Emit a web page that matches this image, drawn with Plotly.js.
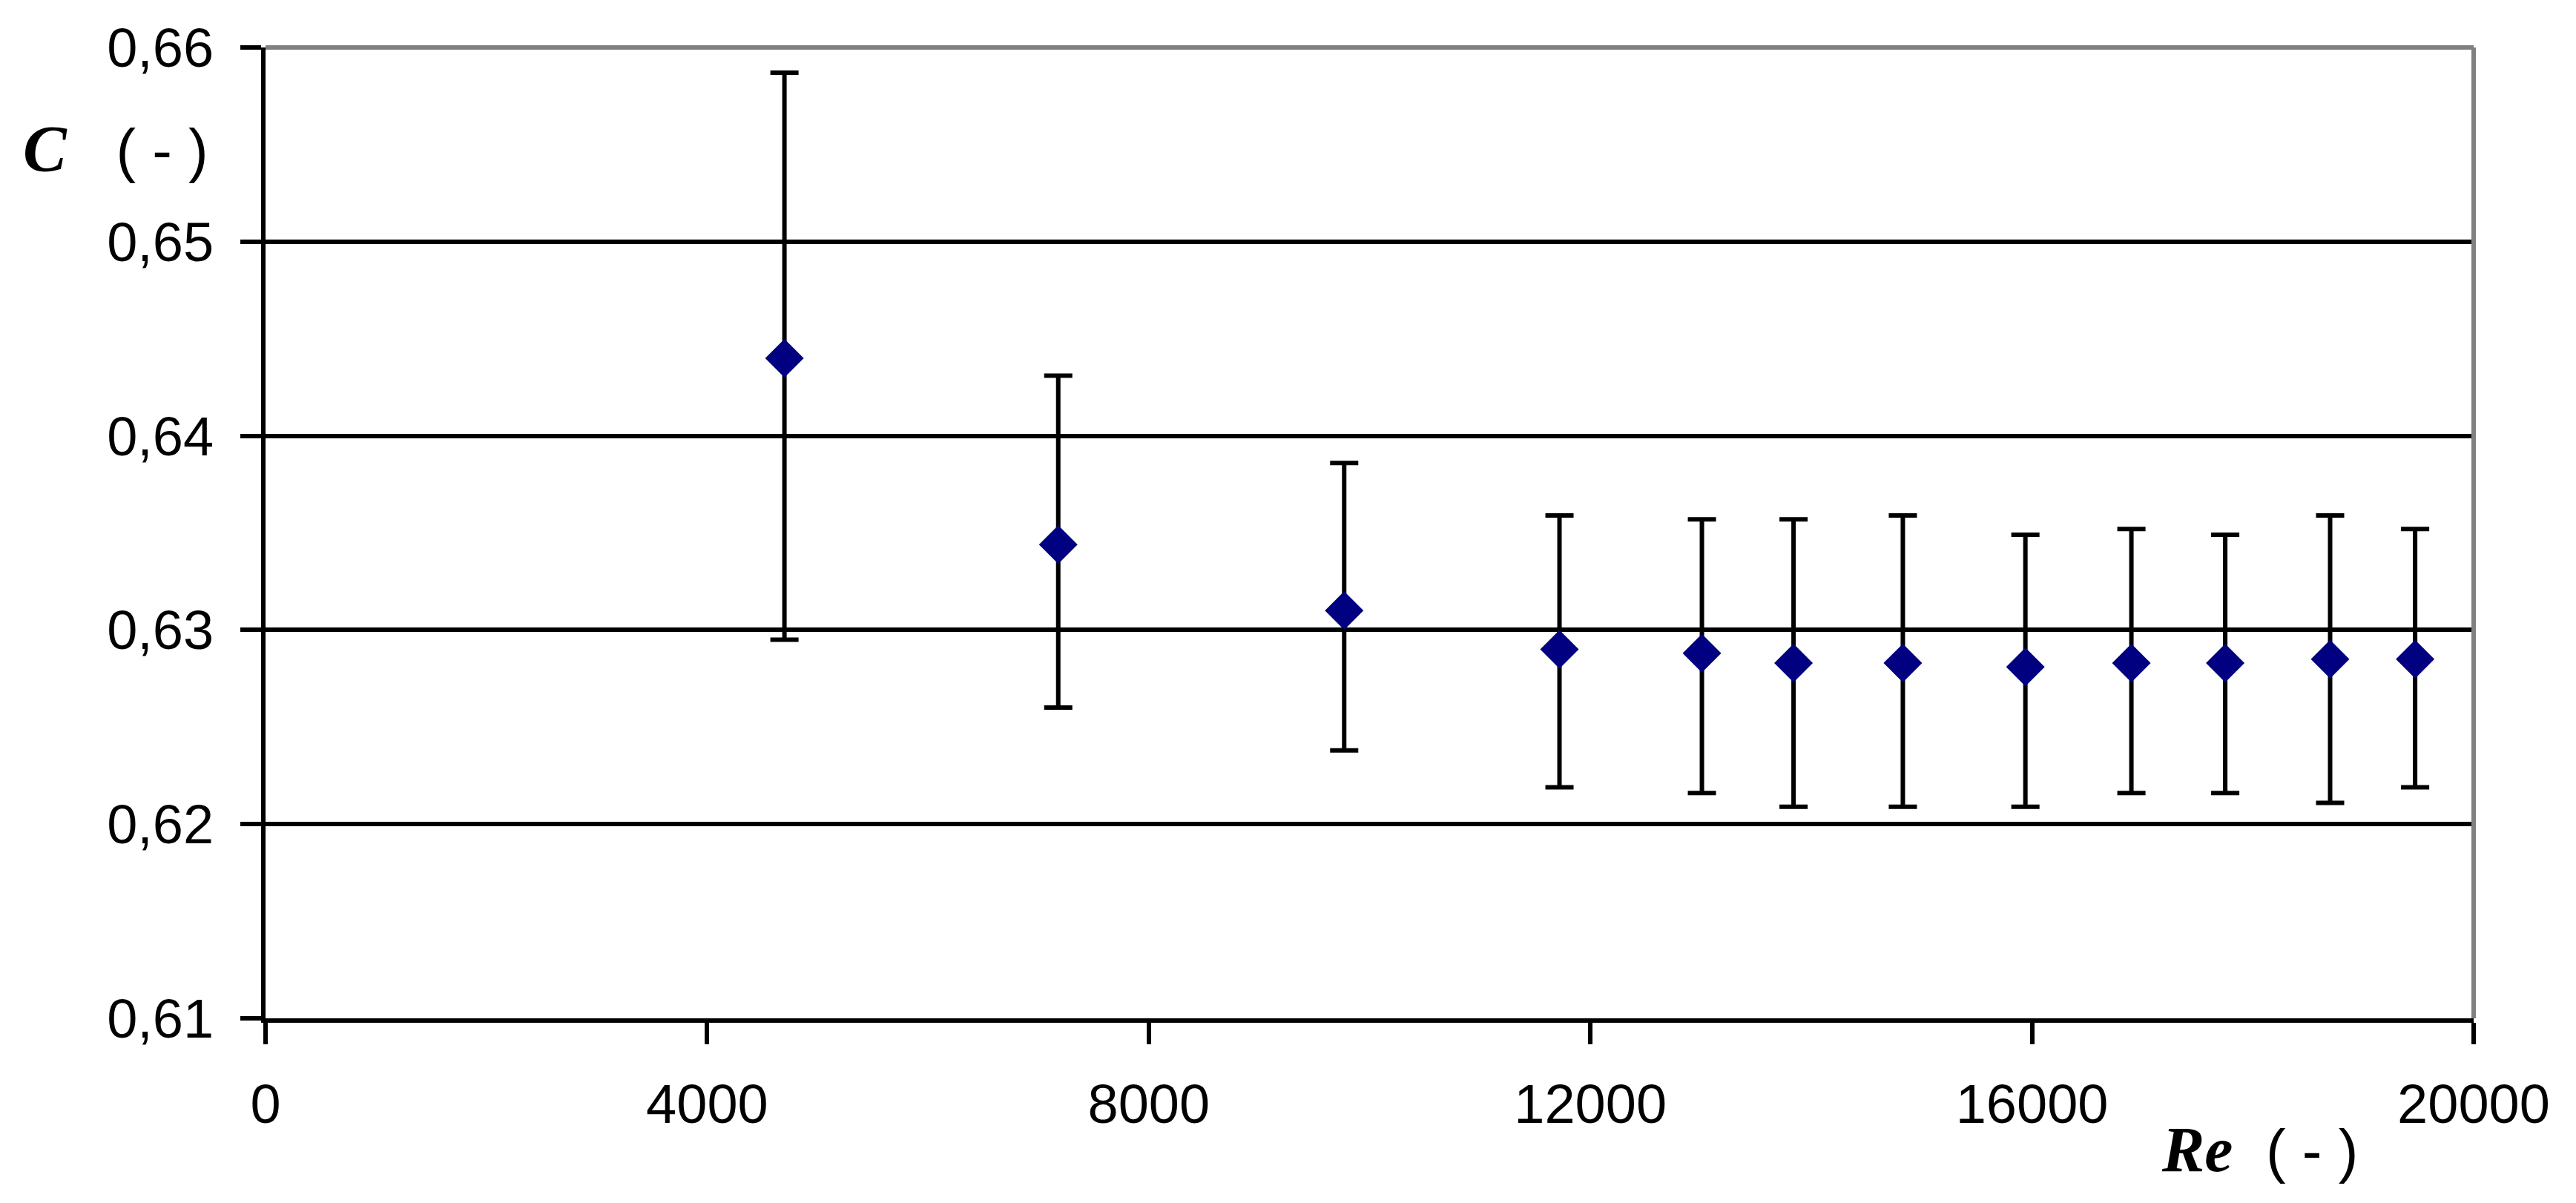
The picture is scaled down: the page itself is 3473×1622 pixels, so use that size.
<!DOCTYPE html>
<html>
<head>
<meta charset="utf-8">
<script src="https://cdn.plot.ly/plotly-3.0.1.min.js"></script>
<style>
	html, body {margin: 0; padding: 0; background: #ffffff;}
	#chart {width: 3473px; height: 1622px;}
</style>
</head>
<body>
<div id="chart"></div>
<script>
// Reynolds number of each measurement
const re_values = [4700, 7180, 9770, 11720, 13010, 13840, 14830, 15940, 16900, 17750, 18700, 19470];
// discharge coefficient C, mean and error bar ends
const c_values = [0.6440, 0.6344, 0.6310, 0.6290, 0.6288, 0.6283, 0.6283, 0.6281, 0.6283, 0.6283, 0.6285, 0.6285];
const c_upper = [0.6587, 0.6431, 0.6386, 0.6359, 0.6357, 0.6357, 0.6359, 0.6349, 0.6352, 0.6349, 0.6359, 0.6352];
const c_lower = [0.6295, 0.6260, 0.6238, 0.6219, 0.6216, 0.6209, 0.6209, 0.6209, 0.6216, 0.6216, 0.6211, 0.6219];

const x_ticks = [0, 4000, 8000, 12000, 16000, 20000];
const y_ticks = [0.61, 0.62, 0.63, 0.64, 0.65, 0.66];

const tick_font = {family: 'Liberation Sans, Arial, sans-serif', size: 74, color: '#000000'};

const err_plus = c_upper.map((u, i) => u - c_values[i]);
const err_minus = c_lower.map((l, i) => c_values[i] - l);

const chart_data = [
	{
		x: re_values,
		y: c_values,
		type: 'scatter',
		mode: 'markers',
		marker: {
			symbol: 'diamond',
			size: 40,
			color: '#000080'
		},
		error_y: {
			type: 'data',
			symmetric: false,
			array: err_plus,
			arrayminus: err_minus,
			color: '#000000',
			thickness: 6,
			width: 19
		},
		showlegend: false,
		hoverinfo: 'x+y'
	}
];

const chart_layout = {
	width: 3473,
	height: 1622,
	paper_bgcolor: '#ffffff',
	plot_bgcolor: '#ffffff',
	separators: ', ',
	margin: {l: 358, r: 138, t: 64, b: 249, pad: 0},
	xaxis: {
		range: [0, 20000],
		tickvals: x_ticks,
		tickformat: 'd',
		showgrid: false,
		zeroline: false,
		showline: true,
		linecolor: '#000000',
		linewidth: 6,
		ticks: 'outside',
		ticklen: 29,
		tickwidth: 6,
		tickcolor: '#000000',
		tickfont: tick_font,
		ticklabelstandoff: 17
	},
	yaxis: {
		range: [0.61, 0.66],
		tickvals: y_ticks,
		tickformat: '.2f',
		showgrid: true,
		gridcolor: '#000000',
		gridwidth: 6,
		zeroline: false,
		showline: true,
		linecolor: '#000000',
		linewidth: 6,
		ticks: 'outside',
		ticklen: 28,
		tickwidth: 6,
		tickcolor: '#000000',
		tickfont: tick_font,
		ticklabelstandoff: 21
	},
	shapes: [
		// grey frame on top and right of the plot area, as in the spreadsheet chart
		{type: 'line', xref: 'paper', yref: 'paper', x0: 0, x1: 1, y0: 1, y1: 1, line: {color: '#808080', width: 6}},
		{type: 'line', xref: 'paper', yref: 'paper', x0: 1, x1: 1, y0: 0, y1: 1, line: {color: '#808080', width: 6}}
	],
	annotations: [
		{
			xref: 'paper', yref: 'paper',
			x: -0.068, y: 0.896,
			xanchor: 'center', yanchor: 'middle',
			showarrow: false,
			text: '<span style="font-family:Liberation Serif;font-size:88px"><b><i>C</i></b></span>&nbsp;&nbsp; ( - )',
			font: {family: 'Liberation Sans, Arial, sans-serif', size: 80, color: '#000000'}
		},
		{
			xref: 'paper', yref: 'paper',
			x: 0.903, y: -0.135,
			xanchor: 'center', yanchor: 'middle',
			showarrow: false,
			text: '<span style="font-family:Liberation Serif;font-size:86px"><b><i>Re</i></b></span>&nbsp; ( - )',
			font: {family: 'Liberation Sans, Arial, sans-serif', size: 80, color: '#000000'}
		}
	]
};

Plotly.newPlot('chart', chart_data, chart_layout, {displayModeBar: false, responsive: false});
</script>
</body>
</html>
